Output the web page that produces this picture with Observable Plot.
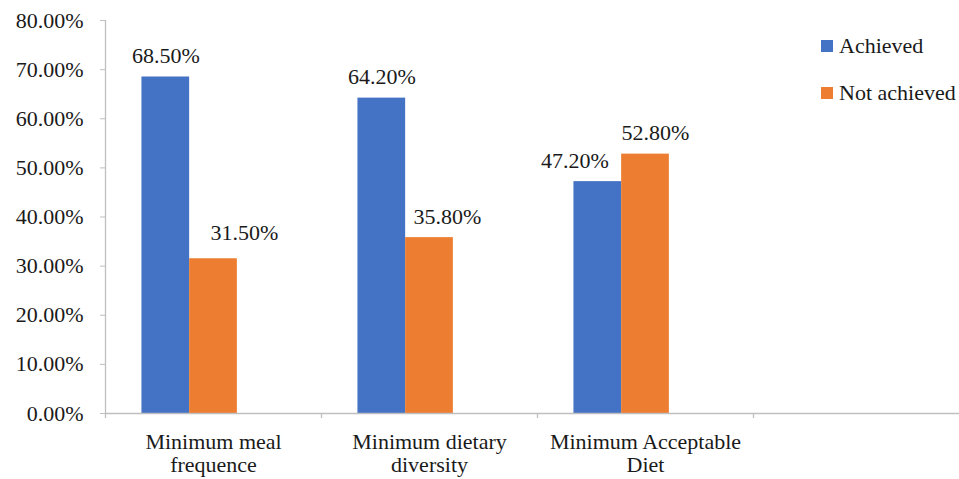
<!DOCTYPE html>
<html>
<head>
<meta charset="utf-8">
<script src="https://cdn.jsdelivr.net/npm/d3@7"></script>
<script src="https://cdn.jsdelivr.net/npm/@observablehq/plot@0.6"></script>
<style>
  html, body { margin: 0; padding: 0; overflow: hidden; background: #fff; }
  #wrap { position: relative; width: 959px; height: 479px; font-family: "Liberation Serif", "Times New Roman", serif; color: #1a1a1a; }
  #wrap svg { overflow: hidden; }
  .lg { position: absolute; left: 821px; display: flex; align-items: center; font-size: 22px; line-height: 1; white-space: nowrap; }
  .lg span.sw { display: inline-block; width: 12px; height: 12px; margin-right: 6px; }
</style>
</head>
<body>
<div id="wrap"></div>
<script>
// ---- data ----
const categories = ["Minimum meal frequence", "Minimum dietary diversity", "Minimum Acceptable Diet"];
const tickLabels = ["Minimum meal\nfrequence", "Minimum dietary\ndiversity", "Minimum Acceptable\nDiet", ""];
const seriesNames = ["Achieved", "Not achieved"];
const achieved = [68.5, 64.2, 47.2];
const notAchieved = [31.5, 35.8, 52.8];
const yTicks = [0, 10, 20, 30, 40, 50, 60, 70, 80];
const seriesColors = ["#4472C4", "#ED7D31"];

// ---- table ----
const slots = [...categories, ""]; // Excel-style empty 4th slot on the axis
const innerDomain = [...seriesNames, "(blank)"];
const rows = [];
categories.forEach((c, i) => {
  rows.push({category: c, series: seriesNames[0], value: achieved[i]});
  rows.push({category: c, series: seriesNames[1], value: notAchieved[i]});
});

// ---- layout / style ----
const W = 959, H = 479;
const mLeft = 105, mTop = 20, mBottom = 66;
const slotW = 216;
const innerPad = 0.764;
const innerStep = slotW / (innerDomain.length + 2 * innerPad);
const edgeDx = -(innerStep * innerPad + innerStep / 2); // from band centre of first inner band to slot edge
const axisGray = "#bfbfbf";
const textColor = "#1a1a1a";
// manual label nudges as in the source figure (px)
const nudge = {
  "Minimum meal frequence|Not achieved": [31, -5],
  "Minimum dietary diversity|Not achieved": [18, 0],
  "Minimum Acceptable Diet|Achieved": [-23, 0],
  "Minimum Acceptable Diet|Not achieved": [10, 0]
};

const labelMarks = rows.map(d => {
  const n = nudge[d.category + "|" + d.series] || [0, 0];
  return Plot.text([d], {
    fx: "category", x: "series", y: "value",
    text: r => r.value.toFixed(2) + "%",
    dx: n[0], dy: -14 + n[1],
    lineAnchor: "bottom", fill: textColor, fontSize: 22
  });
});

const chart = Plot.plot({
  width: W, height: H,
  marginLeft: mLeft, marginRight: 0, marginTop: mTop, marginBottom: mBottom,
  style: {fontFamily: "'Liberation Serif', 'Times New Roman', serif", fontSize: "22px", color: textColor, background: "#fff"},
  fx: {domain: slots, range: [mLeft, mLeft + slots.length * slotW], padding: 0, axis: null, label: null},
  x: {domain: innerDomain, paddingInner: 0, paddingOuter: innerPad, align: 0.5, round: false, axis: null, label: null},
  y: {domain: [0, 80], axis: null, label: null},
  color: {domain: seriesNames, range: seriesColors},
  marks: [
    Plot.barY(rows, {fx: "category", x: "series", y: "value", fill: "series"}),
    Plot.ruleY(slots, {fx: d => d, y: () => 0, stroke: axisGray, strokeWidth: 1.3}),
    Plot.ruleX(slots, {fx: d => d, x: () => seriesNames[0], dx: edgeDx, y1: 0, y2: 0, insetTop: 0, insetBottom: -5, stroke: axisGray, strokeWidth: 1.3}),
    Plot.ruleX([slots[0]], {fx: d => d, x: () => seriesNames[0], dx: edgeDx, y1: 80, y2: 0, stroke: axisGray, strokeWidth: 1.3}),
    Plot.axisY({ticks: yTicks, tickFormat: d => d.toFixed(2) + "%", tickSize: 5, tickPadding: 17, stroke: axisGray, fill: textColor, fontSize: 22, label: null}),
    Plot.axisFx({anchor: "bottom", tickSize: 0, tickPadding: 20, tickFormat: (d, i) => tickLabels[slots.indexOf(d)], lineHeight: 1.02, fill: textColor, fontSize: 22, label: null}),
    ...labelMarks
  ]
});

const wrap = document.getElementById("wrap");
wrap.appendChild(chart);

// legend
const legendTops = [39, 86];
seriesNames.forEach((s, i) => {
  const el = document.createElement("div");
  el.className = "lg";
  el.style.top = (legendTops[i] - 4) + "px";
  const sw = document.createElement("span");
  sw.className = "sw";
  sw.style.background = seriesColors[i];
  el.appendChild(sw);
  el.appendChild(document.createTextNode(s));
  wrap.appendChild(el);
});
</script>
</body>
</html>
